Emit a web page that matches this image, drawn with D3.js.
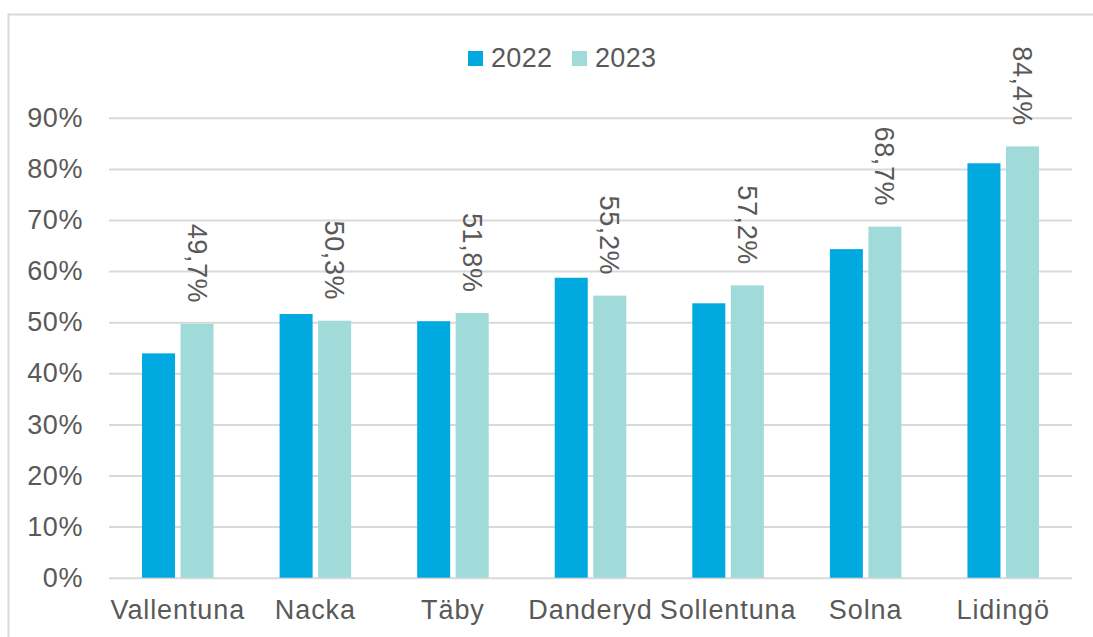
<!DOCTYPE html>
<html>
<head>
<meta charset="utf-8">
<script src="https://cdn.jsdelivr.net/npm/d3@7"></script>
<style>
  body { margin: 0; background: #fff; }
  text { font-family: "Liberation Sans", Arial, sans-serif; fill: #595959; }
</style>
</head>
<body>
<svg id="chart" width="1093" height="637"></svg>
<script>
var kommuner = ["Vallentuna", "Nacka", "Täby", "Danderyd", "Sollentuna", "Solna", "Lidingö"];
var serier = ["2022", "2023"];
var varden_2022 = [43.9, 51.6, 50.2, 58.7, 53.7, 64.3, 81.1];
var varden_2023 = [49.7, 50.3, 51.8, 55.2, 57.2, 68.7, 84.4];
var y_ticks = [0, 10, 20, 30, 40, 50, 60, 70, 80, 90];
var etiketter_2023 = ["49,7%", "50,3%", "51,8%", "55,2%", "57,2%", "68,7%", "84,4%"];

var farger = { "2022": "#00a9df", "2023": "#a0dbd9" };
var grid_farg = "#d9d9d9";

var svg_canvas = d3.select("#chart");

// ram runt diagrammet (beskuren till höger och nedtill)
svg_canvas.append("path")
   .attr("d", "M8.5,640V14.5H1100")
   .attr("fill", "none").attr("stroke", grid_farg).attr("stroke-width", 2);

var x0 = d3.scaleBand().domain(kommuner).range([109, 1072]).paddingInner(0.48).paddingOuter(0.24);
var x1 = d3.scaleBand().domain(serier).range([0, x0.bandwidth()]).paddingInner(0.143);
var y = d3.scaleLinear().domain([0, 90]).range([577.7, 117.8]);

// y-axel med stödlinjer
var y_axis = svg_canvas.append("g").attr("transform", "translate(109,0)")
   .call(d3.axisLeft(y).tickValues(y_ticks).tickSize(-963).tickPadding(26)
      .tickFormat(function(d) { return d + "%"; }));
y_axis.select(".domain").remove();
y_axis.selectAll("line").attr("stroke", grid_farg).attr("stroke-width", 2);
y_axis.selectAll("text").style("font-size", "27px").style("letter-spacing", "0.6px").attr("fill", "#595959");

// x-axel
var x_axis = svg_canvas.append("g").attr("transform", "translate(0," + y(0) + ")")
   .call(d3.axisBottom(x0).tickSize(0).tickPadding(22));
x_axis.select(".domain").remove();
x_axis.selectAll("text").style("font-size", "27px").style("letter-spacing", "0.9px").attr("fill", "#595959");

var rader = kommuner.map(function(k, i) {
   return { "kommun": k, "v2022": varden_2022[i], "v2023": varden_2023[i], "etikett": etiketter_2023[i] };
});

var grupper = svg_canvas.append("g").selectAll("g.grupp").data(rader).enter().append("g")
   .attr("class", "grupp")
   .attr("transform", function(d) { return "translate(" + x0(d.kommun) + ",0)"; });

grupper.selectAll("rect").data(function(d) {
      return [{ "serie": "2022", "v": d.v2022 }, { "serie": "2023", "v": d.v2023 }];
   })
   .enter().append("rect")
   .attr("x", function(d) { return x1(d.serie); })
   .attr("width", x1.bandwidth())
   .attr("y", function(d) { return y(d.v); })
   .attr("height", function(d) { return y(0) - y(d.v); })
   .attr("fill", function(d) { return farger[d.serie]; });

// datadekaler för 2023, roterade
grupper.append("text")
   .attr("transform", function(d) {
      return "translate(" + (x1("2023") + x1.bandwidth() / 2) + "," + (y(d.v2023) - 20.5) + ") rotate(90)";
   })
   .attr("text-anchor", "end").attr("dy", "0.35em")
   .style("font-size", "27px").style("letter-spacing", "0.6px")
   .text(function(d) { return d.etikett; });

// förklaring
var legend = svg_canvas.append("g").attr("transform", "translate(468,51)");
var poster = legend.selectAll("g").data(serier).enter().append("g")
   .attr("transform", function(d, i) { return "translate(" + (i * 104) + ",0)"; });
poster.append("rect").attr("width", 15).attr("height", 15)
   .attr("fill", function(d) { return farger[d]; });
poster.append("text").attr("x", 23).attr("y", 15.5)
   .style("font-size", "27px").style("letter-spacing", "0.3px")
   .text(function(d) { return d; });
</script>
</body>
</html>
